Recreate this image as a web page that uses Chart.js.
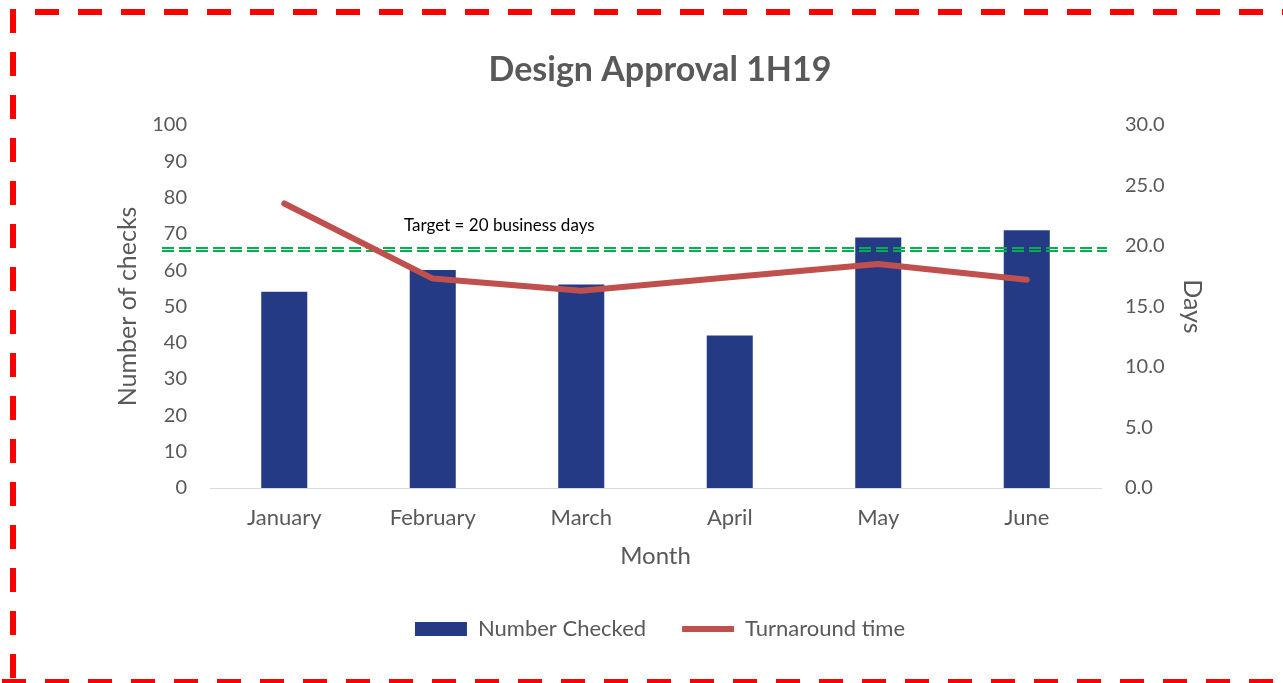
<!DOCTYPE html>
<html>
<head>
<meta charset="utf-8">
<title>Design Approval 1H19</title>
<script src="https://cdn.jsdelivr.net/npm/chart.js@4.4.0/dist/chart.umd.min.js"></script>
<style>
  html, body { margin: 0; padding: 0; background: #fff; }
  #wrap { width: 1283px; height: 683px; position: relative; }
</style>
</head>
<body>
<div id="wrap"><canvas id="approvalChart" width="1283" height="683"></canvas></div>
<script>
// Chart data
const months = ['January', 'February', 'March', 'April', 'May', 'June'];
const numberChecked = [54, 60, 56, 42, 69, 71];
const turnaroundDays = [23.5, 17.3, 16.3, 17.4, 18.5, 17.2];
const targetDays = 19.7;
const targetLabel = 'Target = 20 business days';

const textGrey = '#595959';
const fontFamily = 'Lato, "Noto Sans", sans-serif';

// red dashed frame round the whole picture
const framePlugin = {
    id: 'frame',
    afterDraw(chart) {
        const ctx = chart.ctx;
        ctx.save();
        ctx.strokeStyle = '#FF0000';
        ctx.lineWidth = 6;
        ctx.setLineDash([24, 19]);
        ctx.beginPath();
        ctx.moveTo(35, 12); ctx.lineTo(1290, 12);
        ctx.moveTo(13, 9); ctx.lineTo(13, 690);
        ctx.moveTo(2, 682); ctx.lineTo(1290, 682);
        ctx.stroke();
        ctx.restore();
    }
};

// double green dashed target line, drawn after the bars and before the line
const targetPlugin = {
    id: 'target',
    afterDatasetDraw(chart, args) {
        if (args.index !== 0) return;
        const ctx = chart.ctx;
        const y = chart.scales.yDays.getPixelForValue(targetDays);
        const area = chart.chartArea;
        ctx.save();
        ctx.strokeStyle = '#00B050';
        ctx.lineWidth = 2;
        ctx.setLineDash([12, 5]);
        ctx.beginPath();
        ctx.moveTo(area.left - 48, y - 1.5); ctx.lineTo(area.right + 6, y - 1.5);
        ctx.moveTo(area.left - 48, y + 1.5); ctx.lineTo(area.right + 6, y + 1.5);
        ctx.stroke();
        ctx.setLineDash([]);
        ctx.fillStyle = '#000';
        ctx.font = '17px ' + fontFamily;
        ctx.textBaseline = 'middle';
        ctx.fillText(targetLabel, area.left + 194, y - 24);
        ctx.restore();
    }
};

const ctx = document.getElementById('approvalChart').getContext('2d');
new Chart(ctx, {
    type: 'bar',
    data: {
        labels: months,
        datasets: [{
            label: 'Number Checked',
            data: numberChecked,
            backgroundColor: '#243A85',
            borderWidth: 0,
            barPercentage: 0.31,
            categoryPercentage: 1,
            yAxisID: 'yChecks',
            order: 1,
            pointStyle: 'rect'
        }, {
            type: 'line',
            label: 'Turnaround time',
            data: turnaroundDays,
            borderColor: '#C0504D',
            backgroundColor: '#C0504D',
            borderWidth: 6,
            borderCapStyle: 'round',
            borderJoinStyle: 'round',
            pointRadius: 0,
            tension: 0,
            yAxisID: 'yDays',
            order: 0,
            pointStyle: 'line'
        }]
    },
    options: {
        responsive: false,
        animation: false,
        layout: { padding: { top: 50, left: 113, right: 76, bottom: 33 } },
        plugins: {
            title: {
                display: true,
                text: 'Design Approval 1H19',
                color: textGrey,
                font: { family: fontFamily, size: 34, weight: 'bold' },
                padding: { top: 0, bottom: 34 }
            },
            legend: {
                position: 'bottom',
                labels: {
                    color: textGrey,
                    font: { family: fontFamily, size: 22 },
                    usePointStyle: true,
                    pointStyleWidth: 52,
                    boxHeight: 14,
                    padding: 36,
                    sort: (a, b) => a.datasetIndex - b.datasetIndex
                }
            },
            tooltip: { enabled: false }
        },
        scales: {
            x: {
                grid: { display: false, drawTicks: false },
                border: { color: '#D9D9D9', width: 1 },
                ticks: { color: textGrey, font: { family: fontFamily, size: 22 }, padding: 17 },
                title: {
                    display: true, text: 'Month', color: textGrey,
                    font: { family: fontFamily, size: 24 }, padding: { top: 11, bottom: 11 }
                },
                afterFit: s => { s.height = 94; }
            },
            yChecks: {
                position: 'left',
                min: 0, max: 100,
                grid: { display: false, drawTicks: false },
                border: { display: false },
                ticks: { stepSize: 10, color: textGrey, font: { family: fontFamily, size: 20 }, padding: 23 },
                title: {
                    display: true, text: 'Number of checks', color: textGrey,
                    font: { family: fontFamily, size: 25 }, padding: { top: 0, bottom: 10 }
                },
                afterFit: s => { s.width = 97; }
            },
            yDays: {
                position: 'right',
                min: 0, max: 30,
                grid: { display: false, drawTicks: false },
                border: { display: false },
                ticks: {
                    stepSize: 5, color: textGrey, font: { family: fontFamily, size: 20 }, padding: 24,
                    callback: v => v.toFixed(1)
                },
                title: {
                    display: true, text: 'Days', color: textGrey,
                    font: { family: fontFamily, size: 25 }, padding: { top: 0, bottom: 12 }
                },
                afterFit: s => { s.width = 106; }
            }
        }
    },
    plugins: [targetPlugin, framePlugin]
});
</script>
</body>
</html>
